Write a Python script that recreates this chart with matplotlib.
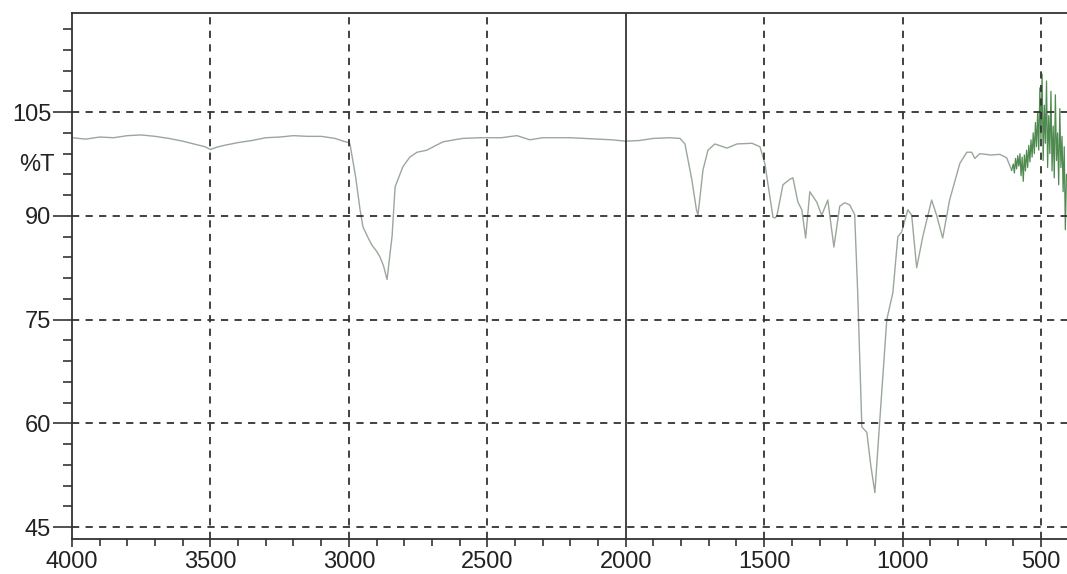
"""
Espectro IR (%T vs número de onda) recreado con matplotlib.
"""

import matplotlib
matplotlib.use("Agg")
import matplotlib.pyplot as plt
from matplotlib.ticker import MultipleLocator

plt.rcParams["font.family"] = ["Liberation Sans", "DejaVu Sans"]

onda = [4000, 3950, 3900, 3850, 3800, 3750, 3700, 3650, 3600, 3550, 3520, 3500,
        3480, 3450, 3400, 3350, 3300, 3250, 3200, 3150, 3100, 3050, 3020, 3000,
        2996, 2975, 2960, 2949, 2930, 2917, 2900, 2888, 2875, 2862, 2850, 2844,
        2833, 2805, 2780, 2754, 2718, 2690, 2660, 2620, 2588, 2527, 2450, 2393,
        2346, 2300, 2200, 2100, 2050, 2000, 1950, 1900, 1841, 1804, 1786, 1761,
        1745, 1739, 1721, 1703, 1678, 1634, 1598, 1544, 1515, 1497, 1490, 1468,
        1461, 1454, 1432, 1407, 1396, 1378, 1364, 1350, 1335, 1310, 1292, 1270,
        1248, 1227, 1209, 1191, 1173, 1162, 1147, 1129, 1115, 1100, 1082, 1057,
        1035, 1017, 1003, 981, 967, 949, 927, 895, 877, 855, 830, 793, 768, 750,
        739, 721, 680, 649, 624, 606]
transm = [101.3, 101.1, 101.4, 101.3, 101.6, 101.7, 101.5, 101.2, 100.8, 100.3, 100.0, 99.6,
          99.9, 100.2, 100.6, 100.9, 101.3, 101.4, 101.6, 101.5, 101.5, 101.2, 100.8, 100.6,
          100.4, 95.5, 91.0, 88.4, 86.8, 85.8, 84.9, 84.1, 82.8, 80.8, 85.0, 87.0,
          94.2, 97.1, 98.5, 99.2, 99.5, 100.1, 100.7, 101.0, 101.2, 101.3, 101.3, 101.6,
          101.0, 101.3, 101.3, 101.1, 101.0, 100.8, 100.9, 101.2, 101.3, 101.2, 100.4, 95.2,
          91.0, 90.1, 96.6, 99.5, 100.4, 99.8, 100.4, 100.5, 100.0, 97.5, 95.6, 89.8,
          89.7, 90.0, 94.5, 95.3, 95.5, 92.0, 90.9, 86.8, 93.5, 92.0, 90.1, 92.3,
          85.5, 91.4, 91.9, 91.6, 90.2, 78.9, 59.5, 58.7, 54.0, 50.0, 60.6, 75.0,
          78.9, 87.0, 87.7, 90.9, 90.1, 82.5, 87.0, 92.3, 90.1, 86.8, 92.3, 97.6, 99.2, 99.2,
          98.3, 99.0, 98.8, 98.9, 98.4, 96.6]

# Zona ruidosa (verde) por debajo de ~600 cm-1
onda_ruido = [606, 600, 596, 592, 588, 584, 580, 576, 572, 568, 564, 560, 556, 552,
              548, 544, 540, 536, 532, 528, 524, 520, 516, 512, 508, 504, 500, 496,
              492, 488, 484, 480, 476, 472, 468, 464, 460, 456, 452, 448, 444, 440,
              436, 432, 428, 424, 420, 416, 412, 408]
transm_ruido = [96.6, 97.5, 96.2, 98.3, 96.8, 98.7, 97.2, 99.0, 95.8, 98.5, 95.0, 98.8,
                96.5, 99.5, 97.0, 100.2, 97.8, 101.0, 98.5, 102.0, 99.0, 103.5, 100.0,
                105.0, 99.5, 108.5, 101.0, 110.5, 98.0, 106.0, 100.5, 109.5, 97.0, 104.5,
                99.0, 108.0, 96.5, 103.0, 95.5, 107.5, 98.0, 102.0, 94.5, 105.5, 97.0,
                101.5, 93.5, 100.0, 88.0, 96.0]

ticks_x = [4000, 3500, 3000, 2500, 2000, 1500, 1000, 500]
ticks_y = [45, 60, 75, 90, 105]

fig = plt.figure(figsize=(10.67, 5.74), dpi=100)
ax = fig.add_axes([0.0675, 0.061, 0.9325, 0.916])

ax.plot(onda, transm, color="#9aa79a", lw=1.0)
ax.plot(onda_ruido, transm_ruido, color="#4f8a50", lw=0.9)

ax.set_xlim(4000, 406)
ax.set_ylim(43.3, 119.3)

# Rejilla: discontinua salvo la línea de 2000 (cambio de escala)
for x in ticks_x[1:]:
    if x == 2000:
        ax.axvline(x, color="#222222", lw=1.2)
    else:
        ax.axvline(x, color="#333333", lw=1.3, ls=(0, (4, 3.5)))
for y in ticks_y:
    ax.axhline(y, color="#333333", lw=1.3, ls=(0, (4, 3.5)))

ax.set_xticks(ticks_x)
ax.set_yticks(ticks_y)
ax.xaxis.set_minor_locator(MultipleLocator(100))
ax.yaxis.set_minor_locator(MultipleLocator(3))
ax.tick_params(axis="both", which="major", labelsize=17, colors="#333333",
               labelcolor="#222222", width=1.2)
ax.tick_params(axis="y", which="major", length=14, pad=1)
ax.tick_params(axis="y", which="minor", length=6.5, width=1.2, colors="#333333")
ax.tick_params(axis="x", which="major", length=6, pad=3)
ax.tick_params(axis="x", which="minor", length=5, width=1.2, colors="#333333")

for lado in ["left", "bottom", "top"]:
    ax.spines[lado].set_color("#333333")
    ax.spines[lado].set_linewidth(1.3)
ax.spines["right"].set_visible(False)

ax.text(-0.035, 97.4, "%T", transform=ax.get_yaxis_transform(), fontsize=17,
        color="#222222", ha="center", va="center")

fig.savefig("out.png", dpi=100)
